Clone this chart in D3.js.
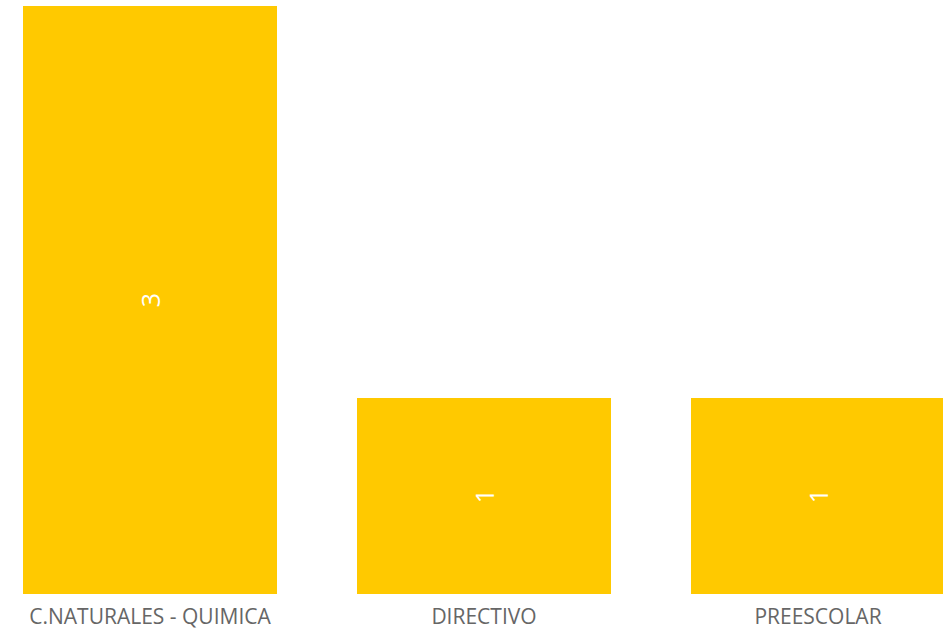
<!DOCTYPE html>
<html>
<head>
<meta charset="utf-8">
<script src="https://cdn.jsdelivr.net/npm/d3@7"></script>
<style>
  html, body { margin: 0; padding: 0; background: #fff; overflow: hidden; }
  svg { display: block; }
</style>
</head>
<body>
<svg id="chart" width="943" height="629"></svg>
<script>
const categories = ["C.NATURALES - QUIMICA", "DIRECTIVO", "PREESCOLAR"];
const values = [3, 1, 1];

const svg = d3.select("#chart");
const barColor = "#FFC900";

const x = d3.scaleBand()
  .domain(categories)
  .range([23, 945])
  .paddingInner(80 / 334)
  .paddingOuter(0);

const y = d3.scaleLinear()
  .domain([0, 3])
  .range([594, 6]);

const data = categories.map((c, i) => ({ cat: c, val: values[i] }));

svg.selectAll("rect.bar")
  .data(data)
  .join("rect")
  .attr("class", "bar")
  .attr("x", d => x(d.cat))
  .attr("y", d => y(d.val))
  .attr("width", x.bandwidth())
  .attr("height", d => y(0) - y(d.val))
  .attr("fill", barColor);

// value labels, rotated to read bottom-to-top, centred in each bar
svg.selectAll("text.val")
  .data(data)
  .join("text")
  .attr("class", "val")
  .attr("transform", d => {
    const cx = x(d.cat) + x.bandwidth() / 2;
    const cy = (y(d.val) + y(0)) / 2;
    return `translate(${cx},${cy}) rotate(-90)`;
  })
  .attr("text-anchor", "middle")
  .attr("dominant-baseline", "central")
  .attr("font-family", "'Open Sans', sans-serif")
  .attr("font-size", 25)
  .attr("fill", "#fff")
  .text(d => d.val);

// category axis
const xAxis = d3.axisBottom(x).tickSize(0).tickPadding(0);
const gx = svg.append("g")
  .attr("transform", "translate(0,624)")
  .call(xAxis);
gx.select(".domain").remove();
gx.selectAll("text")
  .attr("dy", 0)
  .attr("font-family", "'Open Sans', sans-serif")
  .attr("font-size", 21)
  .attr("fill", "#666");
</script>
</body>
</html>
